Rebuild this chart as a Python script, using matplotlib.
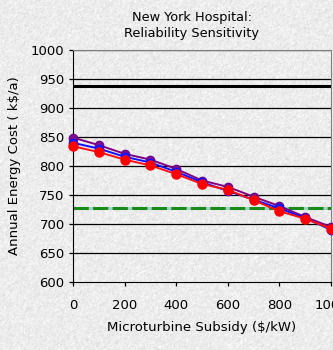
import numpy as np
import matplotlib.pyplot as plt

# subsidy steps ($/kW)
subsidy = [0, 100, 200, 300, 400, 500, 600, 700, 800, 900, 1000]

# annual energy cost (k$/a) for each case
cost_purple = [849, 836, 821, 811, 795, 775, 764, 747, 731, 712, 695]
cost_blue = [840, 830, 816, 806, 790, 772, 757, 742, 727, 710, 690]
cost_red = [834, 824, 811, 801, 786, 769, 759, 741, 722, 709, 692]

# reference levels
base_cost = 938
target_cost = 728

fig = plt.figure(figsize=(3.33, 3.5), dpi=100)

# granite-like backdrop
rng = np.random.default_rng(3)
tex = rng.normal(0.925, 0.035, (350, 333))
tex = (tex + np.roll(tex, 1, 0) + np.roll(tex, 1, 1)) / 3
tex = np.clip(tex, 0.83, 1.0)
bg = fig.add_axes([0, 0, 1, 1], zorder=-10)
bg.imshow(tex, cmap='gray', vmin=0, vmax=1, aspect='auto', interpolation='nearest')
bg.axis('off')

ax = fig.add_axes([73/333, 1-282/350, (331-73)/333, (282-50)/350])
ax.patch.set_alpha(0)

for v in range(650, 1001, 50):
    ax.axhline(v, color='black', lw=0.9, zorder=1)

ax.axhline(base_cost, color='black', lw=2.2, zorder=2)
ax.axhline(target_cost, color='#9fd4c0', lw=2.2, zorder=2)
ax.axhline(target_cost, color='#1a8a1a', lw=2.2, ls=(0, (5, 1.4)), zorder=2)

ax.plot(subsidy, cost_purple, '-o', color='#800080', mfc='#80108f', mec='#6a0a8a',
        lw=1.4, ms=6, zorder=3, clip_on=False)
ax.plot(subsidy, cost_blue, '-o', color='#1010ff', mfc='#2020ff',
        lw=1.4, ms=6, zorder=4, clip_on=False)
ax.plot(subsidy, cost_red, '-o', color='#ff1010', mfc='#ff0000', mec='#ff0000',
        lw=1.4, ms=6.5, zorder=5, clip_on=False)

ax.set_xlim(0, 1000)
ax.set_ylim(600, 1000)
ax.set_xticks(range(0, 1001, 200))
ax.set_yticks(range(600, 1001, 50))
ax.tick_params(labelsize=9.5, length=3, width=0.9, color='black', pad=3)
ax.tick_params(axis='x', pad=9)

ax.spines['left'].set_color('black')
ax.spines['bottom'].set_color('black')
ax.spines['top'].set_color('#808080')
ax.spines['right'].set_color('#808080')

ax.set_xlabel('Microturbine Subsidy ($/kW)', fontsize=9.5, labelpad=7)
ax.set_ylabel('Annual Energy Cost ( k$/a)', fontsize=9.5, labelpad=7)

fig.text(192/333, 1-26/350, 'New York Hospital:\nReliability Sensitivity',
         ha='center', va='center', fontsize=9.3, linespacing=1.3)

fig.savefig('out.png', dpi=100)
